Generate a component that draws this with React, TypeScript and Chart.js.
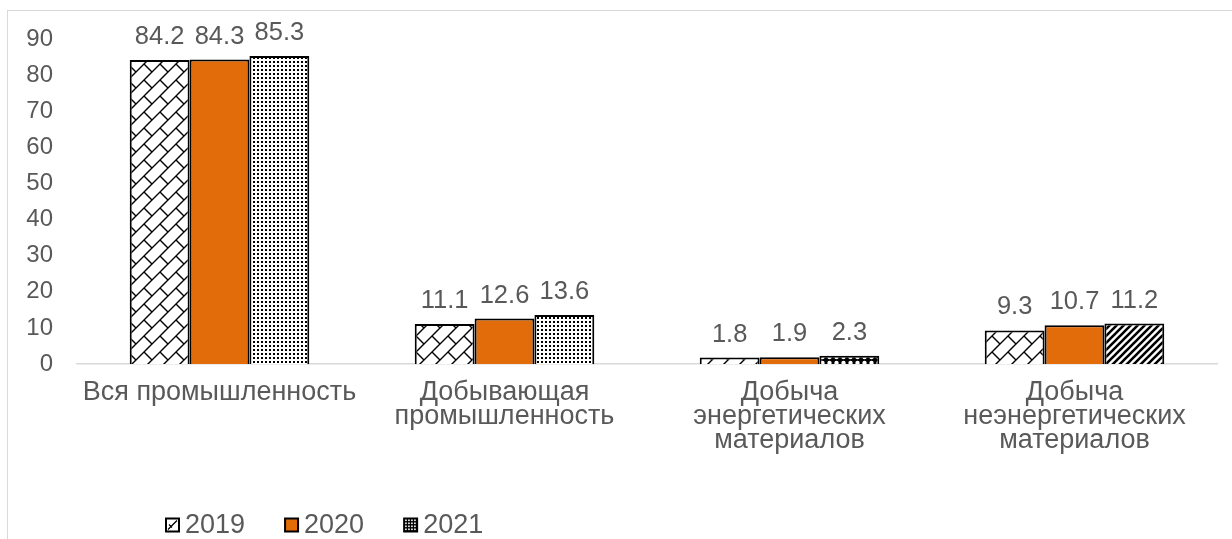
import React, { useEffect, useRef } from 'react';
import { Chart, registerables } from 'chart.js';

Chart.register(...registerables);

const categories: string[][] = [
  ['Вся промышленность'],
  ['Добывающая', 'промышленность'],
  ['Добыча', 'энергетических', 'материалов'],
  ['Добыча', 'неэнергетических', 'материалов'],
];
const seriesNames = ['2019', '2020', '2021'];
const values2019 = [84.2, 11.1, 1.8, 9.3];
const values2020 = [84.3, 12.6, 1.9, 10.7];
const values2021 = [85.3, 13.6, 2.3, 11.2];
const yTicks = [0, 10, 20, 30, 40, 50, 60, 70, 80, 90];

const FONT = "'Liberation Sans', Arial, sans-serif";
const TEXT = '#595959';
const ORANGE = '#E36C0A';
const FS_Y = 24;
const FS_LABEL = 25.5;
const FS_CAT = 27;
const FS_LEGEND = 27;

function makePattern(w: number, h: number, draw: (c: CanvasRenderingContext2D) => void, bg = '#ffffff') {
  const cv = document.createElement('canvas');
  cv.width = w;
  cv.height = h;
  const c = cv.getContext('2d')!;
  c.fillStyle = bg;
  c.fillRect(0, 0, w, h);
  draw(c);
  return c.createPattern(cv, 'repeat') as CanvasPattern;
}

function brickPattern() {
  const s = 16;
  return makePattern(s, s, (c) => {
    c.strokeStyle = '#000';
    c.lineWidth = 1.4;
    c.beginPath();
    c.moveTo(-1, s + 1);
    c.lineTo(s + 1, -1);
    c.moveTo(-2, 2);
    c.lineTo(2, -2);
    c.moveTo(s - 2, s + 2);
    c.lineTo(s + 2, s - 2);
    c.moveTo(0, 0);
    c.lineTo(s / 2, s / 2);
    c.stroke();
  });
}

function dotPattern() {
  return makePattern(4, 4, (c) => {
    c.fillStyle = '#000';
    c.fillRect(1, 1, 2, 2);
  });
}

function ringPattern() {
  return makePattern(7, 6, (c) => {
    c.fillStyle = '#fff';
    c.beginPath();
    c.arc(3.5, 3, 2.2, 0, Math.PI * 2);
    c.fill();
  }, '#000');
}

function stripePattern() {
  const s = 7;
  return makePattern(s, s, (c) => {
    c.strokeStyle = '#000';
    c.lineWidth = 2.6;
    c.beginPath();
    c.moveTo(-1, s + 1);
    c.lineTo(s + 1, -1);
    c.moveTo(-2, 2);
    c.lineTo(2, -2);
    c.moveTo(s - 2, s + 2);
    c.lineTo(s + 2, s - 2);
    c.stroke();
  });
}

export default function App() {
  const ref = useRef<HTMLCanvasElement | null>(null);

  useEffect(() => {
    const canvas = ref.current;
    if (!canvas) return;

    const brick = brickPattern();
    const dots = dotPattern();
    const rings = ringPattern();
    const stripes = stripePattern();

    const labelPlugin = {
      id: 'valueLabels',
      afterDatasetsDraw(chart: any) {
        const ctx = chart.ctx;
        ctx.save();
        ctx.font = `${FS_LABEL}px ${FONT}`;
        ctx.fillStyle = TEXT;
        ctx.textAlign = 'center';
        ctx.textBaseline = 'alphabetic';
        chart.data.datasets.forEach((ds: any, di: number) => {
          const meta = chart.getDatasetMeta(di);
          meta.data.forEach((el: any, i: number) => {
            ctx.fillText(String(ds.data[i]), el.x, el.y - 16);
          });
        });
        ctx.restore();
      },
    };

    const legendPlugin = {
      id: 'customLegend',
      afterDraw(chart: any) {
        const ctx = chart.ctx;
        ctx.save();
        ctx.font = `${FS_LEGEND}px ${FONT}`;
        ctx.textBaseline = 'middle';
        ctx.textAlign = 'left';
        let x = 166;
        const cy = 525;
        const sw = 13;
        seriesNames.forEach((name, i) => {
          const top = cy - sw / 2;
          if (i === 0) {
            ctx.fillStyle = '#fff';
            ctx.fillRect(x, top, sw, sw);
            ctx.strokeStyle = '#000';
            ctx.lineWidth = 2;
            ctx.strokeRect(x, top, sw, sw);
            ctx.lineWidth = 1.3;
            ctx.beginPath();
            ctx.moveTo(x + 2, top + sw - 2);
            ctx.lineTo(x + sw - 2, top + 2);
            ctx.moveTo(x + 3, top + 6);
            ctx.lineTo(x + 6, top + 9);
            ctx.stroke();
          } else if (i === 1) {
            ctx.fillStyle = ORANGE;
            ctx.fillRect(x, top, sw, sw);
            ctx.strokeStyle = '#000';
            ctx.lineWidth = 2;
            ctx.strokeRect(x, top, sw, sw);
          } else {
            ctx.fillStyle = '#000';
            ctx.fillRect(x - 1, top - 1, sw + 2, sw + 2);
            ctx.fillStyle = '#fff';
            for (let a = 0; a < 4; a++) {
              for (let b = 0; b < 4; b++) {
                ctx.fillRect(x + 1 + a * 3, top + 1 + b * 3, 1.6, 1.6);
              }
            }
          }
          ctx.fillStyle = TEXT;
          ctx.fillText(name, x + sw + 6, cy + 1);
          const w = ctx.measureText(name).width;
          x += sw + 6 + w + 40;
        });
        ctx.restore();
      },
    };

    const chart = new Chart(canvas, {
      type: 'bar',
      data: {
        labels: categories,
        datasets: [
          {
            label: seriesNames[0],
            data: values2019,
            backgroundColor: [brick, brick, brick, brick],
            borderColor: '#000',
            borderWidth: 2,
          },
          {
            label: seriesNames[1],
            data: values2020,
            backgroundColor: ORANGE,
            borderColor: '#000',
            borderWidth: 2,
          },
          {
            label: seriesNames[2],
            data: values2021,
            backgroundColor: [dots, dots, rings, stripes],
            borderColor: '#000',
            borderWidth: 2,
          },
        ],
      },
      options: {
        responsive: false,
        animation: false,
        layout: { padding: { left: 0, right: 15, top: 39, bottom: 0 } },
        plugins: {
          legend: { display: false },
          tooltip: { enabled: false },
        },
        datasets: {
          bar: { categoryPercentage: 0.63, barPercentage: 1 },
        },
        scales: {
          x: {
            grid: { display: false, drawTicks: false },
            border: { display: true, color: '#d9d9d9', width: 1.5 },
            ticks: {
              color: TEXT,
              font: { family: FONT, size: FS_CAT, lineHeight: '24px' },
              padding: 17,
              maxRotation: 0,
              autoSkip: false,
            },
            afterFit(scale: any) {
              scale.height = 539 - 364;
            },
          },
          y: {
            min: 0,
            max: 90,
            grid: { display: false, drawTicks: false },
            border: { display: false },
            afterBuildTicks(scale: any) {
              scale.ticks = yTicks.map((v) => ({ value: v }));
            },
            ticks: {
              color: TEXT,
              font: { family: FONT, size: FS_Y },
              padding: 24,
            },
            afterFit(scale: any) {
              scale.width = 77;
            },
          },
        },
      },
      plugins: [labelPlugin, legendPlugin],
    } as any);

    return () => chart.destroy();
  }, []);

  return (
    <div style={{ position: 'fixed', left: 0, top: 0, width: 1232, height: 539, overflow: 'hidden', background: '#fff' }}>
      <div
        style={{
          position: 'absolute',
          left: 7,
          top: 10,
          width: 1400,
          height: 700,
          borderTop: '1.5px solid #d9d9d9',
          borderLeft: '1.5px solid #d9d9d9',
        }}
      />
      <canvas
        ref={ref}
        width={1232}
        height={539}
        style={{ position: 'absolute', left: 0, top: 0, width: 1232, height: 539 }}
      />
    </div>
  );
}
